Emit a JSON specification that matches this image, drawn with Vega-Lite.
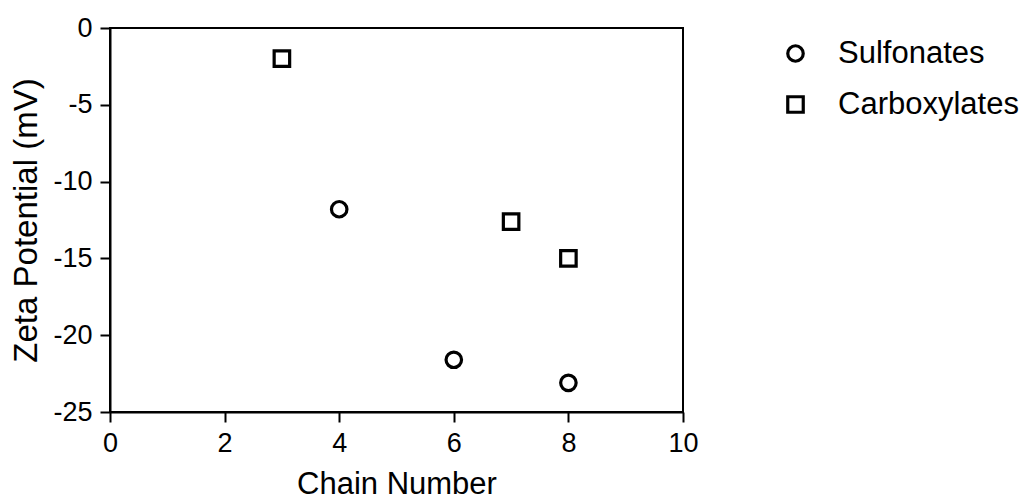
{
  "$schema": "https://vega.github.io/schema/vega-lite/v6.json",
  "width": 573,
  "height": 384,
  "autosize": "none",
  "padding": {"left": 110, "top": 28, "right": 343, "bottom": 92},
  "background": "white",
  "data": {
    "values": [
      {"chain": 4, "zeta": -11.8, "type": "Sulfonates"},
      {"chain": 6, "zeta": -21.6, "type": "Sulfonates"},
      {"chain": 8, "zeta": -23.1, "type": "Sulfonates"},
      {"chain": 3, "zeta": -2.0, "type": "Carboxylates"},
      {"chain": 7, "zeta": -12.6, "type": "Carboxylates"},
      {"chain": 8, "zeta": -15.0, "type": "Carboxylates"}
    ]
  },
  "mark": {"type": "point", "filled": false, "stroke": "black", "strokeWidth": 3.2, "size": 240, "opacity": 1},
  "encoding": {
    "x": {
      "field": "chain", "type": "quantitative",
      "scale": {"domain": [0, 10], "nice": false, "zero": false},
      "axis": {"title": "Chain Number", "values": [0, 2, 4, 6, 8, 10], "grid": false, "labelPadding": 8, "titlePadding": 13, "titleFontSize": 31}
    },
    "y": {
      "field": "zeta", "type": "quantitative",
      "scale": {"domain": [-25, 0], "nice": false},
      "axis": {"title": "Zeta Potential (mV)", "values": [0, -5, -10, -15, -20, -25], "grid": false, "labelPadding": 8, "titlePadding": 9, "titleFontSize": 33}
    },
    "shape": {
      "field": "type", "type": "nominal",
      "scale": {"domain": ["Sulfonates", "Carboxylates"], "range": ["circle", "square"]},
      "legend": {
        "title": null,
        "orient": "none",
        "legendX": 670,
        "legendY": 10,
        "symbolSize": 240,
        "symbolStrokeWidth": 3.2,
        "symbolStrokeColor": "black",
        "symbolFillColor": "transparent",
        "labelFontSize": 31,
        "labelFont": "Liberation Sans",
        "labelColor": "black",
        "labelLimit": 400,
        "labelOffset": 27,
        "rowPadding": 19,
        "padding": 0
      }
    }
  },
  "config": {
    "view": {"stroke": "black", "strokeWidth": 2},
    "axis": {
      "domainColor": "black",
      "domainWidth": 2,
      "tickColor": "black",
      "tickWidth": 2,
      "tickSize": 10,
      "labelFlush": false,
      "labelOverlap": false,
      "labelFont": "Liberation Sans",
      "labelFontSize": 27,
      "labelColor": "black",
      "labelExpr": "'' + datum.value",
      "titleFont": "Liberation Sans",
      "titleFontWeight": "normal",
      "titleColor": "black"
    }
  }
}
